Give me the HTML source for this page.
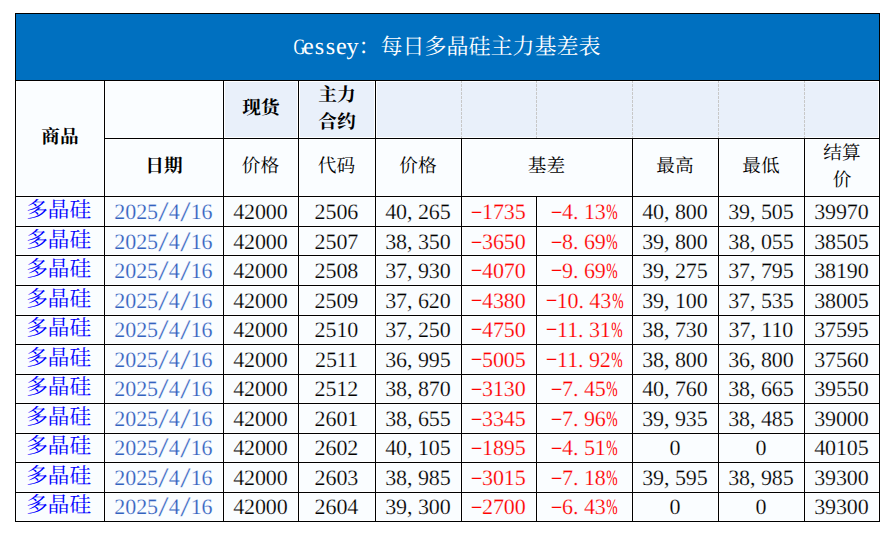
<!DOCTYPE html>
<html lang="zh"><head><meta charset="utf-8"><title>Gessey：每日多晶硅主力基差表</title>
<style>
html,body{margin:0;padding:0;background:#fff}
body{text-rendering:geometricPrecision;width:892px;height:534px;position:relative;overflow:hidden;font-family:"Liberation Serif",serif}
.c{position:absolute;box-sizing:border-box;display:flex;align-items:center;justify-content:center;border:1px solid #fff}
.w{background:#FAFDFF}
.dc{align-items:flex-start}
.h{background:#E9F0FA}
.title{background:#0070C0;border:0;color:#fff}
.l{position:absolute;background:#000}
.dash{position:absolute;width:1px;background:repeating-linear-gradient(to bottom,#C8C8C8 0 2px,transparent 2px 3px,#C8C8C8 3px 4px)}
.cj{display:block;flex:none;white-space:nowrap;text-align:center;color:#000;font-family:"Liberation Serif","Noto Serif CJK SC",serif;font-weight:normal}
.cj.s2{width:37.34px;height:18.67px;font-size:18.67px;line-height:18.67px}
.cj.s1{width:18.67px;height:18.67px;font-size:18.67px;line-height:18.67px}
.cj.s3{width:64.80px;height:21.60px;font-size:21.60px;line-height:21.60px;color:#0000FF;transform:translateX(-1.4px)}
.cj.st{width:242.00px;height:22.00px;font-size:22.00px;line-height:22.00px;color:#fff}
.cj.bd{font-weight:bold}
.cj.sh{transform:translate(-0.6px,-0.3px)}
.tw{display:flex;align-items:center}
.two{display:flex;flex-direction:column;align-items:center}
.two .cj{margin:4.16px 0}
.n{display:inline-block;font-size:22.0px;line-height:1;white-space:nowrap;color:#000;position:relative;top:0px;left:-0.6px;letter-spacing:-0.100px;-webkit-text-stroke:0.2px #FAFDFF}
.n i{font-style:normal;display:inline-block;width:10.9px;text-align:center;letter-spacing:0}
.n b{font-weight:normal;display:block}
.n .k{text-align:left}
.n .d{transform:translateY(-1.4px) scale(1.72,0.7)}
.n .s{transform:scale(1.7,1.3)}
.n .p b{width:200%;margin-left:-50%;transform:scaleX(.62);position:relative;left:.8px;-webkit-text-stroke:0}
.dt{color:#3362BF}
.rd{color:#FF0000}
.t{color:#fff;font-size:22.0px}
.t{-webkit-text-stroke:0;letter-spacing:0}
.t i{width:11.0px}
.t i{transform:scale(1.1,1.08);transform-origin:50% 80%}
.t .g0{transform:scaleX(.74)}
</style></head><body>
<div class="c title" style="left:16px;top:14px;width:863px;height:66px;"><div class="tw" style="transform:translateX(-1.0px)"><span class="n t"><i class="g0">G</i><i class="g1">e</i><i class="g2">s</i><i class="g3">s</i><i class="g4">e</i><i class="g5">y</i></span><span class="cj st">：每日多晶硅主力基差表</span></div></div>
<div class="c w" style="left:16px;top:81px;width:88px;height:115px;"><span class="cj s2 bd">商品</span></div>
<div class="c w" style="left:105px;top:81px;width:118px;height:57px;"></div>
<div class="c w" style="left:105px;top:139px;width:118px;height:57px;"><span class="cj s2 bd">日期</span></div>
<div class="c h" style="left:224px;top:81px;width:74px;height:57px;"><span class="cj s2 bd">现货</span></div>
<div class="c h" style="left:299px;top:81px;width:76px;height:57px;"><div class="two"><span class="cj s2 bd">主力</span><span class="cj s2 bd">合约</span></div></div>
<div class="c h" style="left:376px;top:81px;width:503px;height:57px;"></div>
<div class="dash" style="left:461px;top:81px;height:57px"></div>
<div class="dash" style="left:536px;top:81px;height:57px"></div>
<div class="dash" style="left:632px;top:81px;height:57px"></div>
<div class="dash" style="left:718px;top:81px;height:57px"></div>
<div class="dash" style="left:804px;top:81px;height:57px"></div>
<div class="c w" style="left:224px;top:139px;width:74px;height:57px;"><span class="cj s2 sh">价格</span></div>
<div class="c w" style="left:299px;top:139px;width:76px;height:57px;"><span class="cj s2 sh">代码</span></div>
<div class="c w" style="left:376px;top:139px;width:85px;height:57px;"><span class="cj s2 sh">价格</span></div>
<div class="c w" style="left:462px;top:139px;width:170px;height:57px;"><span class="cj s2 sh">基差</span></div>
<div class="c w" style="left:633px;top:139px;width:85px;height:57px;"><span class="cj s2 sh">最高</span></div>
<div class="c w" style="left:719px;top:139px;width:85px;height:57px;"><span class="cj s2 sh">最低</span></div>
<div class="c w" style="left:805px;top:139px;width:74px;height:57px;"><div class="two"><span class="cj s2">结算</span><span class="cj s1">价</span></div></div>
<div class="c w dc" style="left:16px;top:197px;width:88px;height:29px;padding-top:2.00px"><span class="cj s3">多晶硅</span></div>
<div class="c w dc" style="left:105px;top:197px;width:118px;height:29px;padding-top:3px"><span class="n dt">2025<i class="s">/</i>4<i class="s">/</i>16</span></div>
<div class="c w dc" style="left:224px;top:197px;width:74px;height:29px;padding-top:3px"><span class="n ">42000</span></div>
<div class="c w dc" style="left:299px;top:197px;width:76px;height:29px;padding-top:3px"><span class="n ">2506</span></div>
<div class="c w dc" style="left:376px;top:197px;width:85px;height:29px;padding-top:3px"><span class="n ">40<i class="k">,</i>265</span></div>
<div class="c w dc" style="left:462px;top:197px;width:74px;height:29px;padding-top:3px"><span class="n rd"><i class="d">-</i>1735</span></div>
<div class="c w dc" style="left:537px;top:197px;width:95px;height:29px;padding-top:3px"><span class="n rd"><i class="d">-</i>4<i class="k">.</i>13<i class="p"><b>%</b></i></span></div>
<div class="c w dc" style="left:633px;top:197px;width:85px;height:29px;padding-top:3px"><span class="n ">40<i class="k">,</i>800</span></div>
<div class="c w dc" style="left:719px;top:197px;width:85px;height:29px;padding-top:3px"><span class="n ">39<i class="k">,</i>505</span></div>
<div class="c w dc" style="left:805px;top:197px;width:74px;height:29px;padding-top:3px"><span class="n ">39970</span></div>
<div class="c w dc" style="left:16px;top:227px;width:88px;height:28px;padding-top:2.00px"><span class="cj s3">多晶硅</span></div>
<div class="c w dc" style="left:105px;top:227px;width:118px;height:28px;padding-top:3px"><span class="n dt">2025<i class="s">/</i>4<i class="s">/</i>16</span></div>
<div class="c w dc" style="left:224px;top:227px;width:74px;height:28px;padding-top:3px"><span class="n ">42000</span></div>
<div class="c w dc" style="left:299px;top:227px;width:76px;height:28px;padding-top:3px"><span class="n ">2507</span></div>
<div class="c w dc" style="left:376px;top:227px;width:85px;height:28px;padding-top:3px"><span class="n ">38<i class="k">,</i>350</span></div>
<div class="c w dc" style="left:462px;top:227px;width:74px;height:28px;padding-top:3px"><span class="n rd"><i class="d">-</i>3650</span></div>
<div class="c w dc" style="left:537px;top:227px;width:95px;height:28px;padding-top:3px"><span class="n rd"><i class="d">-</i>8<i class="k">.</i>69<i class="p"><b>%</b></i></span></div>
<div class="c w dc" style="left:633px;top:227px;width:85px;height:28px;padding-top:3px"><span class="n ">39<i class="k">,</i>800</span></div>
<div class="c w dc" style="left:719px;top:227px;width:85px;height:28px;padding-top:3px"><span class="n ">38<i class="k">,</i>055</span></div>
<div class="c w dc" style="left:805px;top:227px;width:74px;height:28px;padding-top:3px"><span class="n ">38505</span></div>
<div class="c w dc" style="left:16px;top:256px;width:88px;height:29px;padding-top:2.00px"><span class="cj s3">多晶硅</span></div>
<div class="c w dc" style="left:105px;top:256px;width:118px;height:29px;padding-top:3px"><span class="n dt">2025<i class="s">/</i>4<i class="s">/</i>16</span></div>
<div class="c w dc" style="left:224px;top:256px;width:74px;height:29px;padding-top:3px"><span class="n ">42000</span></div>
<div class="c w dc" style="left:299px;top:256px;width:76px;height:29px;padding-top:3px"><span class="n ">2508</span></div>
<div class="c w dc" style="left:376px;top:256px;width:85px;height:29px;padding-top:3px"><span class="n ">37<i class="k">,</i>930</span></div>
<div class="c w dc" style="left:462px;top:256px;width:74px;height:29px;padding-top:3px"><span class="n rd"><i class="d">-</i>4070</span></div>
<div class="c w dc" style="left:537px;top:256px;width:95px;height:29px;padding-top:3px"><span class="n rd"><i class="d">-</i>9<i class="k">.</i>69<i class="p"><b>%</b></i></span></div>
<div class="c w dc" style="left:633px;top:256px;width:85px;height:29px;padding-top:3px"><span class="n ">39<i class="k">,</i>275</span></div>
<div class="c w dc" style="left:719px;top:256px;width:85px;height:29px;padding-top:3px"><span class="n ">37<i class="k">,</i>795</span></div>
<div class="c w dc" style="left:805px;top:256px;width:74px;height:29px;padding-top:3px"><span class="n ">38190</span></div>
<div class="c w dc" style="left:16px;top:286px;width:88px;height:29px;padding-top:2.00px"><span class="cj s3">多晶硅</span></div>
<div class="c w dc" style="left:105px;top:286px;width:118px;height:29px;padding-top:3px"><span class="n dt">2025<i class="s">/</i>4<i class="s">/</i>16</span></div>
<div class="c w dc" style="left:224px;top:286px;width:74px;height:29px;padding-top:3px"><span class="n ">42000</span></div>
<div class="c w dc" style="left:299px;top:286px;width:76px;height:29px;padding-top:3px"><span class="n ">2509</span></div>
<div class="c w dc" style="left:376px;top:286px;width:85px;height:29px;padding-top:3px"><span class="n ">37<i class="k">,</i>620</span></div>
<div class="c w dc" style="left:462px;top:286px;width:74px;height:29px;padding-top:3px"><span class="n rd"><i class="d">-</i>4380</span></div>
<div class="c w dc" style="left:537px;top:286px;width:95px;height:29px;padding-top:3px"><span class="n rd"><i class="d">-</i>10<i class="k">.</i>43<i class="p"><b>%</b></i></span></div>
<div class="c w dc" style="left:633px;top:286px;width:85px;height:29px;padding-top:3px"><span class="n ">39<i class="k">,</i>100</span></div>
<div class="c w dc" style="left:719px;top:286px;width:85px;height:29px;padding-top:3px"><span class="n ">37<i class="k">,</i>535</span></div>
<div class="c w dc" style="left:805px;top:286px;width:74px;height:29px;padding-top:3px"><span class="n ">38005</span></div>
<div class="c w dc" style="left:16px;top:316px;width:88px;height:28px;padding-top:1.00px"><span class="cj s3">多晶硅</span></div>
<div class="c w dc" style="left:105px;top:316px;width:118px;height:28px;padding-top:2px"><span class="n dt">2025<i class="s">/</i>4<i class="s">/</i>16</span></div>
<div class="c w dc" style="left:224px;top:316px;width:74px;height:28px;padding-top:2px"><span class="n ">42000</span></div>
<div class="c w dc" style="left:299px;top:316px;width:76px;height:28px;padding-top:2px"><span class="n ">2510</span></div>
<div class="c w dc" style="left:376px;top:316px;width:85px;height:28px;padding-top:2px"><span class="n ">37<i class="k">,</i>250</span></div>
<div class="c w dc" style="left:462px;top:316px;width:74px;height:28px;padding-top:2px"><span class="n rd"><i class="d">-</i>4750</span></div>
<div class="c w dc" style="left:537px;top:316px;width:95px;height:28px;padding-top:2px"><span class="n rd"><i class="d">-</i>11<i class="k">.</i>31<i class="p"><b>%</b></i></span></div>
<div class="c w dc" style="left:633px;top:316px;width:85px;height:28px;padding-top:2px"><span class="n ">38<i class="k">,</i>730</span></div>
<div class="c w dc" style="left:719px;top:316px;width:85px;height:28px;padding-top:2px"><span class="n ">37<i class="k">,</i>110</span></div>
<div class="c w dc" style="left:805px;top:316px;width:74px;height:28px;padding-top:2px"><span class="n ">37595</span></div>
<div class="c w dc" style="left:16px;top:345px;width:88px;height:29px;padding-top:2.00px"><span class="cj s3">多晶硅</span></div>
<div class="c w dc" style="left:105px;top:345px;width:118px;height:29px;padding-top:3px"><span class="n dt">2025<i class="s">/</i>4<i class="s">/</i>16</span></div>
<div class="c w dc" style="left:224px;top:345px;width:74px;height:29px;padding-top:3px"><span class="n ">42000</span></div>
<div class="c w dc" style="left:299px;top:345px;width:76px;height:29px;padding-top:3px"><span class="n ">2511</span></div>
<div class="c w dc" style="left:376px;top:345px;width:85px;height:29px;padding-top:3px"><span class="n ">36<i class="k">,</i>995</span></div>
<div class="c w dc" style="left:462px;top:345px;width:74px;height:29px;padding-top:3px"><span class="n rd"><i class="d">-</i>5005</span></div>
<div class="c w dc" style="left:537px;top:345px;width:95px;height:29px;padding-top:3px"><span class="n rd"><i class="d">-</i>11<i class="k">.</i>92<i class="p"><b>%</b></i></span></div>
<div class="c w dc" style="left:633px;top:345px;width:85px;height:29px;padding-top:3px"><span class="n ">38<i class="k">,</i>800</span></div>
<div class="c w dc" style="left:719px;top:345px;width:85px;height:29px;padding-top:3px"><span class="n ">36<i class="k">,</i>800</span></div>
<div class="c w dc" style="left:805px;top:345px;width:74px;height:29px;padding-top:3px"><span class="n ">37560</span></div>
<div class="c w dc" style="left:16px;top:375px;width:88px;height:28px;padding-top:1.00px"><span class="cj s3">多晶硅</span></div>
<div class="c w dc" style="left:105px;top:375px;width:118px;height:28px;padding-top:2px"><span class="n dt">2025<i class="s">/</i>4<i class="s">/</i>16</span></div>
<div class="c w dc" style="left:224px;top:375px;width:74px;height:28px;padding-top:2px"><span class="n ">42000</span></div>
<div class="c w dc" style="left:299px;top:375px;width:76px;height:28px;padding-top:2px"><span class="n ">2512</span></div>
<div class="c w dc" style="left:376px;top:375px;width:85px;height:28px;padding-top:2px"><span class="n ">38<i class="k">,</i>870</span></div>
<div class="c w dc" style="left:462px;top:375px;width:74px;height:28px;padding-top:2px"><span class="n rd"><i class="d">-</i>3130</span></div>
<div class="c w dc" style="left:537px;top:375px;width:95px;height:28px;padding-top:2px"><span class="n rd"><i class="d">-</i>7<i class="k">.</i>45<i class="p"><b>%</b></i></span></div>
<div class="c w dc" style="left:633px;top:375px;width:85px;height:28px;padding-top:2px"><span class="n ">40<i class="k">,</i>760</span></div>
<div class="c w dc" style="left:719px;top:375px;width:85px;height:28px;padding-top:2px"><span class="n ">38<i class="k">,</i>665</span></div>
<div class="c w dc" style="left:805px;top:375px;width:74px;height:28px;padding-top:2px"><span class="n ">39550</span></div>
<div class="c w dc" style="left:16px;top:404px;width:88px;height:29px;padding-top:2.00px"><span class="cj s3">多晶硅</span></div>
<div class="c w dc" style="left:105px;top:404px;width:118px;height:29px;padding-top:3px"><span class="n dt">2025<i class="s">/</i>4<i class="s">/</i>16</span></div>
<div class="c w dc" style="left:224px;top:404px;width:74px;height:29px;padding-top:3px"><span class="n ">42000</span></div>
<div class="c w dc" style="left:299px;top:404px;width:76px;height:29px;padding-top:3px"><span class="n ">2601</span></div>
<div class="c w dc" style="left:376px;top:404px;width:85px;height:29px;padding-top:3px"><span class="n ">38<i class="k">,</i>655</span></div>
<div class="c w dc" style="left:462px;top:404px;width:74px;height:29px;padding-top:3px"><span class="n rd"><i class="d">-</i>3345</span></div>
<div class="c w dc" style="left:537px;top:404px;width:95px;height:29px;padding-top:3px"><span class="n rd"><i class="d">-</i>7<i class="k">.</i>96<i class="p"><b>%</b></i></span></div>
<div class="c w dc" style="left:633px;top:404px;width:85px;height:29px;padding-top:3px"><span class="n ">39<i class="k">,</i>935</span></div>
<div class="c w dc" style="left:719px;top:404px;width:85px;height:29px;padding-top:3px"><span class="n ">38<i class="k">,</i>485</span></div>
<div class="c w dc" style="left:805px;top:404px;width:74px;height:29px;padding-top:3px"><span class="n ">39000</span></div>
<div class="c w dc" style="left:16px;top:434px;width:88px;height:28px;padding-top:1.00px"><span class="cj s3">多晶硅</span></div>
<div class="c w dc" style="left:105px;top:434px;width:118px;height:28px;padding-top:2px"><span class="n dt">2025<i class="s">/</i>4<i class="s">/</i>16</span></div>
<div class="c w dc" style="left:224px;top:434px;width:74px;height:28px;padding-top:2px"><span class="n ">42000</span></div>
<div class="c w dc" style="left:299px;top:434px;width:76px;height:28px;padding-top:2px"><span class="n ">2602</span></div>
<div class="c w dc" style="left:376px;top:434px;width:85px;height:28px;padding-top:2px"><span class="n ">40<i class="k">,</i>105</span></div>
<div class="c w dc" style="left:462px;top:434px;width:74px;height:28px;padding-top:2px"><span class="n rd"><i class="d">-</i>1895</span></div>
<div class="c w dc" style="left:537px;top:434px;width:95px;height:28px;padding-top:2px"><span class="n rd"><i class="d">-</i>4<i class="k">.</i>51<i class="p"><b>%</b></i></span></div>
<div class="c w dc" style="left:633px;top:434px;width:85px;height:28px;padding-top:2px"><span class="n ">0</span></div>
<div class="c w dc" style="left:719px;top:434px;width:85px;height:28px;padding-top:2px"><span class="n ">0</span></div>
<div class="c w dc" style="left:805px;top:434px;width:74px;height:28px;padding-top:2px"><span class="n ">40105</span></div>
<div class="c w dc" style="left:16px;top:463px;width:88px;height:29px;padding-top:2.00px"><span class="cj s3">多晶硅</span></div>
<div class="c w dc" style="left:105px;top:463px;width:118px;height:29px;padding-top:3px"><span class="n dt">2025<i class="s">/</i>4<i class="s">/</i>16</span></div>
<div class="c w dc" style="left:224px;top:463px;width:74px;height:29px;padding-top:3px"><span class="n ">42000</span></div>
<div class="c w dc" style="left:299px;top:463px;width:76px;height:29px;padding-top:3px"><span class="n ">2603</span></div>
<div class="c w dc" style="left:376px;top:463px;width:85px;height:29px;padding-top:3px"><span class="n ">38<i class="k">,</i>985</span></div>
<div class="c w dc" style="left:462px;top:463px;width:74px;height:29px;padding-top:3px"><span class="n rd"><i class="d">-</i>3015</span></div>
<div class="c w dc" style="left:537px;top:463px;width:95px;height:29px;padding-top:3px"><span class="n rd"><i class="d">-</i>7<i class="k">.</i>18<i class="p"><b>%</b></i></span></div>
<div class="c w dc" style="left:633px;top:463px;width:85px;height:29px;padding-top:3px"><span class="n ">39<i class="k">,</i>595</span></div>
<div class="c w dc" style="left:719px;top:463px;width:85px;height:29px;padding-top:3px"><span class="n ">38<i class="k">,</i>985</span></div>
<div class="c w dc" style="left:805px;top:463px;width:74px;height:29px;padding-top:3px"><span class="n ">39300</span></div>
<div class="c w dc" style="left:16px;top:493px;width:88px;height:28px;padding-top:1.00px"><span class="cj s3">多晶硅</span></div>
<div class="c w dc" style="left:105px;top:493px;width:118px;height:28px;padding-top:2px"><span class="n dt">2025<i class="s">/</i>4<i class="s">/</i>16</span></div>
<div class="c w dc" style="left:224px;top:493px;width:74px;height:28px;padding-top:2px"><span class="n ">42000</span></div>
<div class="c w dc" style="left:299px;top:493px;width:76px;height:28px;padding-top:2px"><span class="n ">2604</span></div>
<div class="c w dc" style="left:376px;top:493px;width:85px;height:28px;padding-top:2px"><span class="n ">39<i class="k">,</i>300</span></div>
<div class="c w dc" style="left:462px;top:493px;width:74px;height:28px;padding-top:2px"><span class="n rd"><i class="d">-</i>2700</span></div>
<div class="c w dc" style="left:537px;top:493px;width:95px;height:28px;padding-top:2px"><span class="n rd"><i class="d">-</i>6<i class="k">.</i>43<i class="p"><b>%</b></i></span></div>
<div class="c w dc" style="left:633px;top:493px;width:85px;height:28px;padding-top:2px"><span class="n ">0</span></div>
<div class="c w dc" style="left:719px;top:493px;width:85px;height:28px;padding-top:2px"><span class="n ">0</span></div>
<div class="c w dc" style="left:805px;top:493px;width:74px;height:28px;padding-top:2px"><span class="n ">39300</span></div>
<div class="l" style="left:15px;top:13px;width:865px;height:1px"></div>
<div class="l" style="left:15px;top:80px;width:865px;height:1px"></div>
<div class="l" style="left:104px;top:138px;width:776px;height:1px"></div>
<div class="l" style="left:15px;top:196px;width:865px;height:1px"></div>
<div class="l" style="left:15px;top:226px;width:865px;height:1px"></div>
<div class="l" style="left:15px;top:255px;width:865px;height:1px"></div>
<div class="l" style="left:15px;top:285px;width:865px;height:1px"></div>
<div class="l" style="left:15px;top:315px;width:865px;height:1px"></div>
<div class="l" style="left:15px;top:344px;width:865px;height:1px"></div>
<div class="l" style="left:15px;top:374px;width:865px;height:1px"></div>
<div class="l" style="left:15px;top:403px;width:865px;height:1px"></div>
<div class="l" style="left:15px;top:433px;width:865px;height:1px"></div>
<div class="l" style="left:15px;top:462px;width:865px;height:1px"></div>
<div class="l" style="left:15px;top:492px;width:865px;height:1px"></div>
<div class="l" style="left:15px;top:521px;width:865px;height:1px"></div>
<div class="l" style="left:15px;top:13px;width:1px;height:509px"></div>
<div class="l" style="left:879px;top:13px;width:1px;height:509px"></div>
<div class="l" style="left:104px;top:80px;width:1px;height:442px"></div>
<div class="l" style="left:223px;top:80px;width:1px;height:442px"></div>
<div class="l" style="left:298px;top:80px;width:1px;height:442px"></div>
<div class="l" style="left:375px;top:80px;width:1px;height:442px"></div>
<div class="l" style="left:461px;top:138px;width:1px;height:384px"></div>
<div class="l" style="left:632px;top:138px;width:1px;height:384px"></div>
<div class="l" style="left:718px;top:138px;width:1px;height:384px"></div>
<div class="l" style="left:804px;top:138px;width:1px;height:384px"></div>
<div class="l" style="left:536px;top:196px;width:1px;height:326px"></div>
</body></html>
